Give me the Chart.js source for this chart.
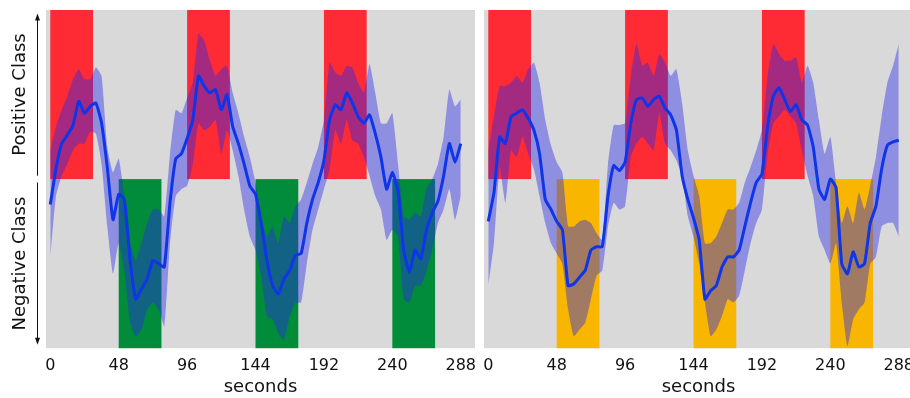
<!DOCTYPE html>
<html>
<head>
<meta charset="utf-8">
<script src="https://cdn.jsdelivr.net/npm/chart.js@4.4.1/dist/chart.umd.min.js"></script>
<style>
  body { margin: 0; background: #fff; overflow: hidden; width: 910px; height: 398px; position: relative; }
  canvas { position: absolute; top: 0; }
  #leftChart { left: 0; }
  #rightChart { left: 480px; }
</style>
</head>
<body>
<canvas id="leftChart" width="480" height="398"></canvas>
<canvas id="rightChart" width="440" height="398"></canvas>
<script>
//---------- data (one value every 4 seconds) ----------
const tickSeconds = [0, 48, 96, 144, 192, 240, 288];
const positiveSpans = [[0, 30], [96, 126], [192, 222]];
const negativeSpans = [[48, 78], [144, 174], [240, 270]];

const leftMean = [
  -0.15, 0.06, 0.21, 0.26, 0.32, 0.46, 0.39, 0.43, 0.45, 0.33,
  0.07, -0.24, -0.09, -0.12, -0.48, -0.71, -0.65, -0.59, -0.48, -0.50,
  -0.52, -0.14, 0.12, 0.15, 0.24, 0.35, 0.61, 0.55, 0.51, 0.53,
  0.41, 0.50, 0.31, 0.21, 0.09, -0.04, -0.09, -0.26, -0.48, -0.63,
  -0.68, -0.59, -0.54, -0.45, -0.44, -0.26, -0.12, -0.02, 0.11, 0.35,
  0.44, 0.41, 0.51, 0.45, 0.37, 0.33, 0.38, 0.27, 0.13, -0.06,
  0.04, -0.07, -0.42, -0.55, -0.42, -0.47, -0.30, -0.20, -0.13, 0.02,
  0.21, 0.10, 0.21
];
const leftUpper = [
  0.17, 0.31, 0.41, 0.49, 0.59, 0.65, 0.59, 0.59, 0.66, 0.61,
  0.19, 0.04, 0.12, -0.10, -0.38, -0.48, -0.38, -0.26, -0.18, -0.18,
  -0.22, 0.15, 0.41, 0.39, 0.48, 0.57, 0.86, 0.82, 0.70, 0.61,
  0.65, 0.67, 0.51, 0.39, 0.25, 0.13, -0.02, -0.22, -0.34, -0.28,
  -0.38, -0.22, -0.26, -0.16, -0.12, -0.02, 0.09, 0.19, 0.35, 0.69,
  0.63, 0.61, 0.67, 0.66, 0.57, 0.51, 0.68, 0.51, 0.33, 0.33,
  0.39, 0.09, -0.22, -0.24, -0.20, -0.22, -0.06, 0.00, 0.09, 0.25,
  0.53, 0.43, 0.47
];
const leftLower = [
  -0.46, -0.10, 0.02, 0.09, 0.17, 0.21, 0.21, 0.28, 0.27, 0.09,
  -0.28, -0.56, -0.38, -0.54, -0.85, -0.93, -0.89, -0.77, -0.73, -0.77,
  -0.87, -0.38, -0.10, -0.06, -0.04, 0.09, 0.33, 0.29, 0.31, 0.35,
  0.15, 0.29, 0.17, 0.02, -0.18, -0.34, -0.42, -0.57, -0.81, -0.83,
  -0.91, -0.95, -0.81, -0.73, -0.73, -0.50, -0.30, -0.18, -0.06, 0.06,
  0.29, 0.21, 0.35, 0.23, 0.21, 0.13, 0.02, -0.10, -0.18, -0.36,
  -0.30, -0.34, -0.71, -0.73, -0.63, -0.63, -0.54, -0.42, -0.26, -0.18,
  -0.06, -0.24, -0.10
];

const rightMean = [
  -0.25, -0.08, 0.25, 0.21, 0.37, 0.39, 0.41, 0.36, 0.29, 0.15,
  -0.12, -0.18, -0.25, -0.30, -0.63, -0.62, -0.58, -0.54, -0.42, -0.40,
  -0.40, -0.10, 0.08, 0.05, 0.10, 0.33, 0.47, 0.48, 0.43, 0.47,
  0.49, 0.42, 0.38, 0.29, 0.02, -0.12, -0.23, -0.36, -0.71, -0.66,
  -0.63, -0.52, -0.46, -0.46, -0.42, -0.28, -0.14, -0.02, 0.03, 0.31,
  0.49, 0.54, 0.47, 0.40, 0.44, 0.35, 0.32, 0.19, -0.06, -0.12,
  0.00, -0.05, -0.50, -0.56, -0.43, -0.52, -0.50, -0.26, -0.16, 0.06,
  0.20, 0.22, 0.23
];
const rightUpper = [
  0.17, 0.37, 0.55, 0.55, 0.57, 0.61, 0.57, 0.65, 0.69, 0.57,
  0.35, 0.20, 0.10, 0.04, -0.28, -0.28, -0.25, -0.24, -0.26, -0.32,
  -0.36, 0.09, 0.32, 0.32, 0.33, 0.61, 0.80, 0.67, 0.69, 0.61,
  0.74, 0.69, 0.61, 0.65, 0.45, 0.17, 0.02, -0.10, -0.38, -0.38,
  -0.34, -0.26, -0.18, -0.18, -0.14, -0.02, 0.07, 0.17, 0.29, 0.61,
  0.80, 0.74, 0.70, 0.70, 0.72, 0.57, 0.67, 0.57, 0.35, 0.15,
  0.25, -0.02, -0.26, -0.16, -0.26, -0.08, -0.18, -0.04, 0.13, 0.37,
  0.57, 0.67, 0.80
];
const rightLower = [
  -0.63, -0.38, 0.07, -0.14, 0.17, 0.13, 0.25, 0.15, 0.06, -0.10,
  -0.26, -0.38, -0.44, -0.50, -0.77, -0.93, -0.89, -0.85, -0.71, -0.57,
  -0.54, -0.28, -0.14, -0.18, -0.16, 0.13, 0.21, 0.25, 0.21, 0.17,
  0.39, 0.21, 0.17, 0.11, 0.02, -0.22, -0.34, -0.50, -0.73, -0.93,
  -0.89, -0.81, -0.71, -0.73, -0.69, -0.54, -0.38, -0.26, -0.18, 0.15,
  0.33, 0.37, 0.41, 0.37, 0.33, 0.17, 0.02, -0.10, -0.34, -0.42,
  -0.50, -0.38, -0.73, -0.99, -0.83, -0.77, -0.73, -0.50, -0.46, -0.28,
  -0.26, -0.26, -0.34
];

const seconds = leftMean.map((v, i) => i * 4);
//---------- end data ----------

const FONT = 'DejaVu Sans';
const toPoints = values => values.map((v, i) => ({x: seconds[i], y: v}));

// gray panel + coloured class windows, drawn with the chart's scales
const classWindows = {
  id: 'classWindows',
  beforeDraw(chart, args, opts) {
    const {ctx, chartArea: a, scales: {x, y}} = chart;
    ctx.save();
    ctx.fillStyle = '#d9d9d9';
    ctx.fillRect(a.left, a.top, a.width, a.height);
    const box = (span, top, bottom, color) => {
      const x0 = x.getPixelForValue(span[0]);
      const x1 = x.getPixelForValue(span[1]);
      const y0 = y.getPixelForValue(top);
      const y1 = y.getPixelForValue(bottom);
      ctx.fillStyle = color;
      ctx.fillRect(x0, y0, x1 - x0, y1 - y0);
    };
    positiveSpans.forEach(s => box(s, 1, 0, '#fe2b34'));
    negativeSpans.forEach(s => box(s, 0, -1, opts.negativeColor));
    ctx.restore();
  }
};

// "Positive Class" / "Negative Class" with arrows, left panel only
const classTitles = {
  id: 'classTitles',
  afterDraw(chart, args, opts) {
    if (!opts.show) return;
    const {ctx, scales: {y}} = chart;
    ctx.save();
    ctx.fillStyle = '#111';
    ctx.strokeStyle = '#111';
    ctx.lineWidth = 1;
    ctx.font = '18px "' + FONT + '"';
    ctx.textAlign = 'center';
    ctx.textBaseline = 'middle';
    [['Positive Class', 0.5], ['Negative Class', -0.5]].forEach(([label, v]) => {
      ctx.save();
      ctx.translate(20, y.getPixelForValue(v));
      ctx.rotate(-Math.PI / 2);
      ctx.fillText(label, 0, 0);
      ctx.restore();
    });
    const arrow = (from, to) => {
      const ax = 37.5;
      const y0 = y.getPixelForValue(from);
      const y1 = y.getPixelForValue(to);
      const dir = y1 < y0 ? -1 : 1;
      ctx.beginPath();
      ctx.moveTo(ax, y0);
      ctx.lineTo(ax, y1 - dir * 5);
      ctx.stroke();
      ctx.beginPath();
      ctx.moveTo(ax, y1);
      ctx.lineTo(ax - 2.5, y1 - dir * 7);
      ctx.lineTo(ax + 2.5, y1 - dir * 7);
      ctx.closePath();
      ctx.fill();
    };
    arrow(0.02, 0.98);
    arrow(-0.02, -0.98);
    ctx.restore();
  }
};

function makePanel(canvasId, mean, upper, lower, negativeColor, padLeft, padRight, showTitles) {
  return new Chart(document.getElementById(canvasId), {
    type: 'line',
    data: {
      datasets: [
        {
          data: toPoints(mean),
          borderColor: '#0f35e8',
          borderWidth: 3,
          pointRadius: 0,
          fill: false,
          tension: 0.15
        },
        {
          data: toPoints(upper),
          borderWidth: 0,
          borderColor: 'rgba(0,0,0,0)',
          pointRadius: 0,
          backgroundColor: 'rgba(40,40,235,0.42)',
          fill: '+1',
          tension: 0.15
        },
        {
          data: toPoints(lower),
          borderWidth: 0,
          borderColor: 'rgba(0,0,0,0)',
          pointRadius: 0,
          fill: false,
          tension: 0.15
        }
      ]
    },
    options: {
      responsive: false,
      animation: false,
      layout: {padding: {left: padLeft, right: padRight, top: 10, bottom: 0}},
      plugins: {
        legend: {display: false},
        tooltip: {enabled: false},
        classWindows: {negativeColor: negativeColor},
        classTitles: {show: showTitles}
      },
      scales: {
        x: {
          type: 'linear',
          min: -3,
          max: 298,
          // invisible tick marks give the gap under the panel without widening it
          grid: {display: false, drawTicks: true, tickLength: 8},
          border: {display: false},
          afterBuildTicks: scale => { scale.ticks = tickSeconds.map(v => ({value: v})); },
          ticks: {padding: 0, color: '#111', maxRotation: 0, font: {family: FONT, size: 16}},
          title: {display: true, text: 'seconds', color: '#111', font: {family: FONT, size: 18}, padding: {top: 1, bottom: 0}}
        },
        y: {display: false, min: -1, max: 1}
      }
    },
    plugins: [classWindows, classTitles]
  });
}

makePanel('leftChart', leftMean, leftUpper, leftLower, '#008c3a', 46, 5, true);
makePanel('rightChart', rightMean, rightUpper, rightLower, '#f8b600', 4, 7, false);
</script>
</body>
</html>
